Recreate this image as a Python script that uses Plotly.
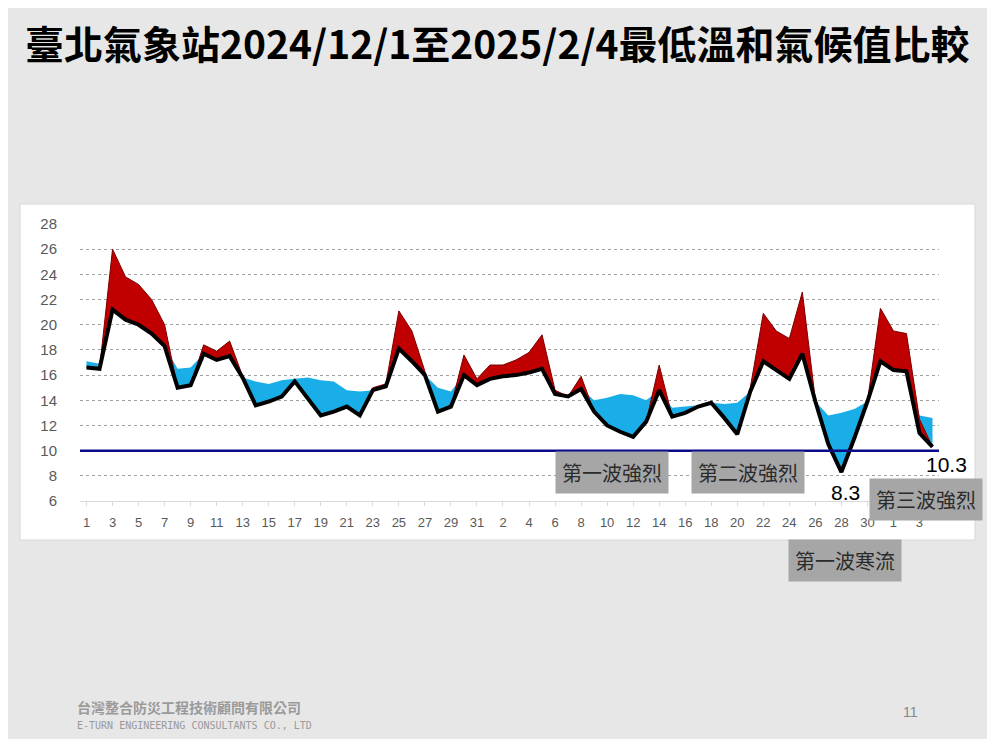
import numpy as np
import plotly.graph_objects as go

# 日期標籤 (2024/12/1 ~ 2025/2/4)
days = list(range(1, 32)) + list(range(1, 32)) + list(range(1, 5))
# 實測最低溫
obs = [16.6, 16.5, 21.2, 20.4, 20.0, 19.3, 18.3, 15.0, 15.2, 17.7,
       17.2, 17.5, 15.8, 13.6, 13.9, 14.3, 15.5, 14.2, 12.8, 13.1,
       13.5, 12.8, 14.8, 15.1, 18.1, 17.1, 16.0, 13.1, 13.5, 16.0,
       15.2, 15.7, 15.9, 16.0, 16.2, 16.5, 14.5, 14.3, 14.9, 13.1,
       12.0, 11.5, 11.1, 12.3, 14.8, 12.7, 13.0, 13.5, 13.8, 12.6,
       11.3, 14.7, 17.1, 16.4, 15.7, 17.7, 13.9, 10.5, 8.3, 11.0,
       13.9, 17.1, 16.4, 16.3, 11.4, 10.3]
# 氣候值 (藍色上緣)
clim = [17.1, 16.9, 16.8, 16.7, 16.7, 16.6, 16.6, 16.5, 16.6, 16.3,
        16.1, 15.9, 15.7, 15.5, 15.3, 15.6, 15.7, 15.8, 15.6, 15.5,
        14.8, 14.7, 14.7, 14.9, 15.0, 15.0, 15.1, 15.0, 14.7, 14.6,
        14.6, 14.5, 14.5, 14.4, 14.4, 14.4, 14.3, 14.3, 14.3, 14.0,
        14.2, 14.5, 14.4, 14.0, 13.8, 13.4, 13.5, 13.6, 13.7, 13.7,
        13.8, 13.7, 13.6, 13.5, 13.4, 13.3, 13.0, 12.8, 13.0, 13.3,
        13.7, 13.4, 13.2, 13.0, 12.8, 12.6]
# 紅色上緣
warm = [16.6, 16.5, 26.0, 23.8, 23.2, 22.0, 20.0, 15.0, 15.2, 18.4,
        17.9, 18.7, 15.9, 13.6, 13.9, 14.3, 15.5, 14.2, 12.8, 13.1,
        13.5, 12.8, 15.0, 15.3, 21.1, 19.5, 16.3, 13.1, 13.5, 17.6,
        15.7, 16.8, 16.8, 17.2, 17.8, 19.2, 14.8, 14.3, 15.9, 13.1,
        12.0, 11.5, 11.1, 12.3, 16.8, 12.7, 13.0, 13.5, 13.8, 12.6,
        11.3, 15.0, 20.9, 19.5, 18.9, 22.6, 14.0, 10.5, 8.3, 11.0,
        13.9, 21.3, 19.5, 19.3, 12.5, 10.3]

x = list(range(len(obs)))
obs_a = np.array(obs)
blue_top = np.maximum(np.array(clim), obs_a)
red_top = np.maximum(np.array(warm), obs_a)

OFF = 8
W, H = 995 - 2 * OFF, 747 - 2 * OFF
# margins in target-screenshot pixels
L, R, T, B = 80 - OFF, 995 - 939 - OFF, 224 - OFF, 747 - 501 - OFF
pw, ph = W - L - R, H - T - B


def px(xp):
    return (xp - OFF - L) / pw


def py(yp):
    return (H - B - (yp - OFF)) / ph


def note(txt, xp, yp, size, color, family, xanchor="center", **kw):
    fig.add_annotation(text=txt, x=px(xp), y=py(yp), xref="paper", yref="paper",
                       xanchor=xanchor, yanchor="middle", showarrow=False,
                       font=dict(size=size, color=color, family=family), **kw)


fig = go.Figure()
fig.add_trace(go.Scatter(x=x, y=obs, mode="lines", line=dict(width=0), showlegend=False))
fig.add_trace(go.Scatter(x=x, y=blue_top, mode="lines", line=dict(width=0),
                         fill="tonexty", fillcolor="#1aaee8", showlegend=False))
fig.add_trace(go.Scatter(x=x, y=obs, mode="lines", line=dict(width=0), showlegend=False))
fig.add_trace(go.Scatter(x=x, y=red_top, mode="lines", line=dict(width=1, color="#7a0000"),
                         fill="tonexty", fillcolor="#c00000", showlegend=False))
fig.add_trace(go.Scatter(x=x, y=obs, mode="lines", line=dict(width=4, color="black"),
                         showlegend=False))
fig.add_hline(y=10, line=dict(color="#0b0b8a", width=2.5))

fig.add_shape(type="rect", xref="paper", yref="paper", layer="below",
              x0=px(20), x1=px(975), y0=py(540), y1=py(204),
              fillcolor="white", line=dict(color="#d8d8d8", width=1))

boxes = [("第一波強烈", 612, 472), ("第二波強烈", 748, 472),
         ("第三波強烈", 926, 499), ("第一波寒流", 845, 560)]
for txt, bx, by in boxes:
    note(txt, bx, by, 20, "#2b2b2b", "Noto Sans CJK TC", bgcolor="#a6a6a6", borderpad=6)
note("8.3", 845, 492, 21, "black", "Liberation Sans")
note("10.3", 946, 464, 21, "black", "Liberation Sans")

note("<b>臺北氣象站2024/12/1至2025/2/4最低溫和氣候值比較</b>", 497, 42, 39, "black",
     "Noto Sans CJK TC")
note("<b>台灣整合防災工程技術顧問有限公司</b>", 75, 707, 14, "#9a9a9a",
     "Noto Sans CJK TC", xanchor="left")
note("E-TURN ENGINEERING CONSULTANTS CO., LTD", 75, 725, 10, "#9a9a9a",
     "DejaVu Sans Mono", xanchor="left")
note("11", 910, 712, 14, "#888888", "Liberation Sans")

fig.update_layout(
    width=W, height=H, margin=dict(l=L, r=R, t=T, b=B),
    paper_bgcolor="#e7e7e7", plot_bgcolor="white",
    font=dict(family="Liberation Sans", color="#595959", size=14),
)
fig.update_xaxes(range=[-0.5, 65.5], tickvals=x[::2], ticktext=[str(d) for d in days[::2]],
                 showgrid=False, zeroline=False, showline=True, linecolor="#d9d9d9",
                 ticks="outside", ticklen=4, tickcolor="#d9d9d9", ticklabelstandoff=5,
                 tickfont=dict(size=13, color="#595959", family="Liberation Sans"))
fig.update_yaxes(range=[6, 28], dtick=2, showgrid=True, gridcolor="#a0a0a0",
                 griddash="dot", zeroline=False, ticklabelstandoff=22,
                 tickfont=dict(size=15, color="#595959"))

fig.write_html("out.html")
